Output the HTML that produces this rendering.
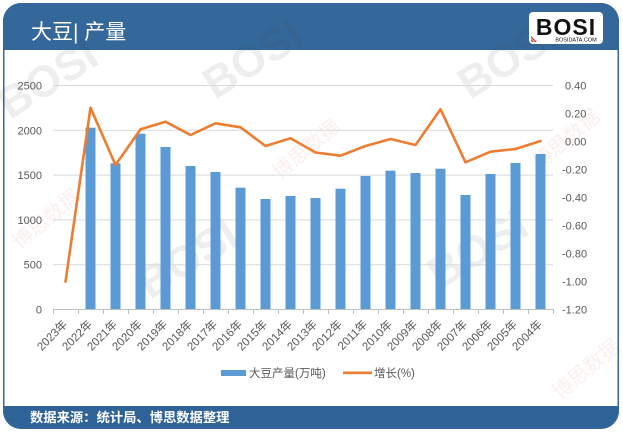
<!DOCTYPE html>
<html><head><meta charset="utf-8">
<style>
html,body{margin:0;padding:0;background:#fff;}
svg{display:block;}
text{font-family:"Liberation Sans","Noto Sans CJK SC",sans-serif;}
</style></head>
<body>
<svg width="623" height="435" viewBox="0 0 623 435" xmlns="http://www.w3.org/2000/svg">
<defs>
<clipPath id="fr"><rect x="3" y="3" width="616" height="426" rx="18" ry="18"/></clipPath>
</defs>
<rect x="0" y="0" width="623" height="435" fill="#fff"/>
<g clip-path="url(#fr)">
<rect x="0" y="0" width="623" height="435" fill="#fff"/>
<rect x="0" y="0" width="623" height="50" fill="#34679a"/>
<rect x="0" y="406" width="623" height="30" fill="#2f6398"/>
</g>
<rect x="3.75" y="3.75" width="614.5" height="424.5" rx="18" ry="18" fill="none" stroke="#34679a" stroke-width="1.5"/>

<!-- watermarks -->
<g opacity="0.10" font-weight="bold" fill="#555">
<text x="0" y="0" font-size="44" transform="translate(10,120) rotate(-32)">BOSI</text>
<text x="0" y="0" font-size="44" transform="translate(215,100) rotate(-32)">BOSI</text>
<text x="0" y="0" font-size="44" transform="translate(470,100) rotate(-32)">BOSI</text>
<text x="0" y="0" font-size="44" transform="translate(150,300) rotate(-32)">BOSI</text>
<text x="0" y="0" font-size="44" transform="translate(440,290) rotate(-32)">BOSI</text>
</g>
<g opacity="0.08" fill="#c0392b" font-size="20">
<text transform="translate(20,250) rotate(-40)">博思数据</text>
<text transform="translate(280,180) rotate(-40)">博思数据</text>
<text transform="translate(540,170) rotate(-40)">博思数据</text>
<text transform="translate(560,400) rotate(-40)">博思数据</text>
</g>

<!-- title -->
<text x="31" y="39" font-size="21" fill="#fff">大豆| 产量</text>

<!-- logo -->
<rect x="529" y="12" width="74" height="32" rx="4" fill="#fff"/>
<text x="566" y="35" font-size="23" font-weight="bold" fill="#111" text-anchor="middle" letter-spacing="1">BOSI</text>
<text x="576" y="41.5" font-size="5.5" fill="#111" text-anchor="middle">BOSIDATA.COM</text>
<path d="M531 36 L537 42 L535 42 L531 38 Z M531 39 L534 42 L532 42 L531 41 Z" fill="#d33"/>

<!-- gridlines -->
<g stroke="#d9d9d9" stroke-width="1">
<line x1="53" x2="553" y1="85.5" y2="85.5"/>
<line x1="53" x2="553" y1="130.3" y2="130.3"/>
<line x1="53" x2="553" y1="175.1" y2="175.1"/>
<line x1="53" x2="553" y1="219.9" y2="219.9"/>
<line x1="53" x2="553" y1="264.7" y2="264.7"/>
</g>
<line x1="53" x2="553" y1="309.5" y2="309.5" stroke="#bfbfbf" stroke-width="1"/>
<g stroke="#bfbfbf" stroke-width="1">
<line x1="53.5" x2="53.5" y1="309" y2="314"/><line x1="78.5" x2="78.5" y1="309" y2="314"/><line x1="103.5" x2="103.5" y1="309" y2="314"/><line x1="128.5" x2="128.5" y1="309" y2="314"/><line x1="153.5" x2="153.5" y1="309" y2="314"/><line x1="178.5" x2="178.5" y1="309" y2="314"/><line x1="203.5" x2="203.5" y1="309" y2="314"/><line x1="228.5" x2="228.5" y1="309" y2="314"/><line x1="253.5" x2="253.5" y1="309" y2="314"/><line x1="278.5" x2="278.5" y1="309" y2="314"/><line x1="303.5" x2="303.5" y1="309" y2="314"/><line x1="328.5" x2="328.5" y1="309" y2="314"/><line x1="353.5" x2="353.5" y1="309" y2="314"/><line x1="378.5" x2="378.5" y1="309" y2="314"/><line x1="403.5" x2="403.5" y1="309" y2="314"/><line x1="428.5" x2="428.5" y1="309" y2="314"/><line x1="453.5" x2="453.5" y1="309" y2="314"/><line x1="478.5" x2="478.5" y1="309" y2="314"/><line x1="503.5" x2="503.5" y1="309" y2="314"/><line x1="528.5" x2="528.5" y1="309" y2="314"/><line x1="553.5" x2="553.5" y1="309" y2="314"/>
</g>

<!-- bars -->
<g fill="#5b9bd5">
<rect x="85.5" y="127.7" width="10" height="181.3"/>
<rect x="110.5" y="163.3" width="10" height="145.7"/>
<rect x="135.5" y="133.7" width="10" height="175.3"/>
<rect x="160.5" y="147" width="10" height="162"/>
<rect x="185.5" y="166" width="10" height="143"/>
<rect x="210.5" y="172" width="10" height="137"/>
<rect x="235.5" y="187.7" width="10" height="121.3"/>
<rect x="260.5" y="199" width="10" height="110"/>
<rect x="285.5" y="196" width="10" height="113"/>
<rect x="310.5" y="198" width="10" height="111"/>
<rect x="335.5" y="188.7" width="10" height="120.3"/>
<rect x="360.5" y="176" width="10" height="133"/>
<rect x="385.5" y="170.7" width="10" height="138.3"/>
<rect x="410.5" y="173" width="10" height="136"/>
<rect x="435.5" y="168.7" width="10" height="140.3"/>
<rect x="460.5" y="195" width="10" height="114"/>
<rect x="485.5" y="174" width="10" height="135"/>
<rect x="510.5" y="163" width="10" height="146"/>
<rect x="535.5" y="154" width="10" height="155"/>
</g>

<!-- line -->
<polyline fill="none" stroke="#ed7d31" stroke-width="2.6" stroke-linejoin="round" stroke-linecap="round"
points="65.5,281.7 90.5,107.7 115.5,165 140.5,129.3 165.5,121.7 190.5,135 215.5,123.3 240.5,127.3 265.5,146 290.5,138.3 315.5,152.5 340.5,155.7 365.5,146 390.5,139 415.5,145 440.5,109.3 465.5,162.3 490.5,151.7 515.5,149 540.5,141"/>

<!-- left axis labels -->
<g font-size="11" fill="#595959" text-anchor="end">
<text x="42" y="89.5">2500</text>
<text x="42" y="134.3">2000</text>
<text x="42" y="179.1">1500</text>
<text x="42" y="223.9">1000</text>
<text x="42" y="268.7">500</text>
<text x="42" y="313.5">0</text>
</g>
<!-- right axis labels -->
<g font-size="11" fill="#595959">
<text x="565" y="89.5">0.40</text>
<text x="565" y="117.5">0.20</text>
<text x="565" y="145.5">0.00</text>
<text x="562" y="173.5">-0.20</text>
<text x="562" y="201.5">-0.40</text>
<text x="562" y="229.5">-0.60</text>
<text x="562" y="257.5">-0.80</text>
<text x="562" y="285.5">-1.00</text>
<text x="562" y="313.5">-1.20</text>
</g>

<!-- x labels -->
<g font-size="11.5" fill="#595959" text-anchor="end">
<text transform="translate(68,325) rotate(-45)">2023年</text>
<text transform="translate(93,325) rotate(-45)">2022年</text>
<text transform="translate(118,325) rotate(-45)">2021年</text>
<text transform="translate(143,325) rotate(-45)">2020年</text>
<text transform="translate(168,325) rotate(-45)">2019年</text>
<text transform="translate(193,325) rotate(-45)">2018年</text>
<text transform="translate(218,325) rotate(-45)">2017年</text>
<text transform="translate(243,325) rotate(-45)">2016年</text>
<text transform="translate(268,325) rotate(-45)">2015年</text>
<text transform="translate(293,325) rotate(-45)">2014年</text>
<text transform="translate(318,325) rotate(-45)">2013年</text>
<text transform="translate(343,325) rotate(-45)">2012年</text>
<text transform="translate(368,325) rotate(-45)">2011年</text>
<text transform="translate(393,325) rotate(-45)">2010年</text>
<text transform="translate(418,325) rotate(-45)">2009年</text>
<text transform="translate(443,325) rotate(-45)">2008年</text>
<text transform="translate(468,325) rotate(-45)">2007年</text>
<text transform="translate(493,325) rotate(-45)">2006年</text>
<text transform="translate(518,325) rotate(-45)">2005年</text>
<text transform="translate(543,325) rotate(-45)">2004年</text>
</g>

<!-- legend -->
<rect x="221" y="370" width="25" height="6" fill="#5b9bd5"/>
<text x="249" y="377" font-size="11.5" fill="#595959">大豆产量(万吨)</text>
<line x1="343" x2="372" y1="372.8" y2="372.8" stroke="#ed7d31" stroke-width="2.6"/>
<text x="374" y="377" font-size="11.5" fill="#595959">增长(%)</text>

<!-- footer -->
<text x="30" y="422" font-size="13.3" font-weight="bold" fill="#fff">数据来源：统计局、博思数据整理</text>
</svg>
</body></html>
